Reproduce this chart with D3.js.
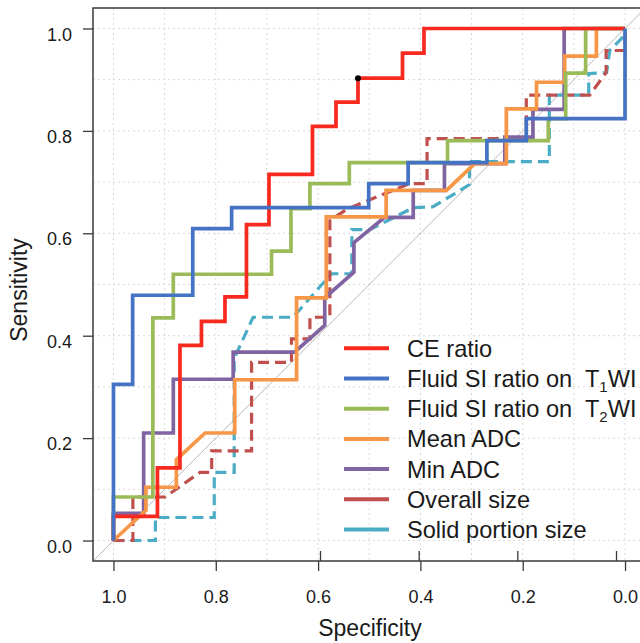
<!DOCTYPE html>
<html>
<head>
<meta charset="utf-8">
<script src="https://cdn.jsdelivr.net/npm/d3@7"></script>
<style>
body { margin: 0; background: #fff; }
text { font-family: "Liberation Sans", Arial, sans-serif; fill: #1a1a1a; }
</style>
</head>
<body>
<div id="chart"></div>
<script>
// ROC curves, each point is [specificity, sensitivity]
var ceRatio = [[1,0],[1,0.047],[0.914,0.047],[0.914,0.142],[0.87,0.142],[0.87,0.381],[0.828,0.381],[0.828,0.428],
    [0.782,0.428],[0.782,0.476],[0.74,0.476],[0.74,0.617],[0.696,0.617],[0.696,0.715],[0.611,0.715],[0.611,0.809],
    [0.565,0.809],[0.565,0.856],[0.522,0.856],[0.522,0.903],[0.435,0.903],[0.435,0.952],[0.393,0.952],[0.393,1],[0,1]];
var fluidT1 = [[1,0],[1,0.305],[0.9625,0.305],[0.9625,0.479],[0.845,0.479],[0.845,0.609],[0.769,0.609],[0.769,0.65],
    [0.501,0.65],[0.501,0.697],[0.424,0.697],[0.424,0.738],[0.27,0.738],[0.27,0.781],[0.193,0.781],[0.193,0.824],
    [0,0.824],[0,1]];
var fluidT2 = [[1,0],[1,0.085],[0.923,0.085],[0.923,0.435],[0.883,0.435],[0.883,0.52],[0.691,0.52],[0.691,0.565],
    [0.653,0.565],[0.653,0.648],[0.616,0.648],[0.616,0.697],[0.539,0.697],[0.539,0.738],[0.347,0.738],[0.347,0.781],
    [0.15,0.781],[0.15,0.824],[0.116,0.824],[0.116,0.913],[0.077,0.913],[0.077,1],[0,1]];
var meanADC = [[1,0],[0.9365,0.059],[0.9365,0.104],[0.877,0.104],[0.877,0.158],[0.821,0.21],[0.763,0.21],[0.763,0.314],
    [0.642,0.314],[0.642,0.474],[0.584,0.474],[0.584,0.632],[0.467,0.632],[0.467,0.684],[0.349,0.684],[0.294,0.736],
    [0.232,0.736],[0.232,0.843],[0.173,0.843],[0.173,0.895],[0.118,0.895],[0.118,0.946],[0.056,0.946],[0.056,1],[0,1]];
var minADC = [[1,0],[1,0.053],[0.941,0.053],[0.941,0.21],[0.883,0.21],[0.883,0.315],[0.766,0.315],[0.766,0.368],
    [0.646,0.368],[0.587,0.42],[0.587,0.474],[0.53,0.524],[0.53,0.582],[0.47,0.631],[0.414,0.631],[0.414,0.684],
    [0.353,0.684],[0.353,0.736],[0.235,0.736],[0.235,0.788],[0.18,0.788],[0.18,0.842],[0.119,0.842],[0.119,1],[0,1]];
var overallSize = [[1,0],[0.962,0],[0.962,0.085],[0.899,0.085],[0.831,0.133],[0.808,0.133],[0.808,0.175],[0.73,0.175],
    [0.73,0.348],[0.652,0.348],[0.652,0.394],[0.616,0.394],[0.616,0.436],[0.577,0.436],[0.577,0.625],[0.542,0.648],
    [0.421,0.697],[0.387,0.697],[0.387,0.785],[0.193,0.785],[0.193,0.87],[0.069,0.87],[0.037,0.914],[0.037,0.957],
    [0,0.957],[0,1]];
var solidSize = [[1,0],[0.918,0],[0.918,0.045],[0.803,0.045],[0.803,0.133],[0.764,0.133],[0.764,0.355],[0.757,0.371],
    [0.727,0.436],[0.649,0.436],[0.574,0.521],[0.534,0.521],[0.534,0.607],[0.499,0.607],[0.414,0.65],[0.375,0.652],
    [0.304,0.695],[0.304,0.74],[0.148,0.74],[0.148,0.87],[0.071,0.87],[0.071,0.912],[0.036,0.914],[0.03,0.957],
    [0.007,0.98],[0,1]];

var cutoffPoint = [0.522, 0.903];

var seriesNames = ["CE ratio", "Fluid SI ratio on  T_1WI", "Fluid SI ratio on  T_2WI", "Mean ADC", "Min ADC",
    "Overall size", "Solid portion size"];
var seriesData = [ceRatio, fluidT1, fluidT2, meanADC, minADC, overallSize, solidSize];
var seriesColors = ["#f8291f", "#4472c4", "#9bbb59", "#f79646", "#8064a2", "#c0504d", "#4bacc6"];
var seriesDashed = [false, false, false, false, false, true, true];

var tickValues = [1.0, 0.8, 0.6, 0.4, 0.2, 0.0];
var innerTickValues = [0.6, 0.4, 0.2, 0.0];
var gridValues = [0, 0.1, 0.2, 0.3, 0.4, 0.5, 0.6, 0.7, 0.8, 0.9, 1.0];

// SVG container
var svg = d3.select("#chart").append("svg")
    .attr("width", 640)
    .attr("height", 643);

var plotLeft = 93, plotTop = 8, plotW = 552.5, plotH = 553;

var xScale = d3.scaleLinear().domain([1.04, -0.04]).range([plotLeft, plotLeft + plotW]);
var yScale = d3.scaleLinear().domain([-0.04, 1.04]).range([plotTop + plotH, plotTop]);
// second set of small marks pointing up from the bottom axis
var xInner = d3.scaleLinear().domain([0.6, 0]).range([320, 616]);

svg.append("clipPath").attr("id", "plotClip")
    .append("rect")
    .attr("x", plotLeft).attr("y", plotTop)
    .attr("width", plotW).attr("height", plotH);

var plotG = svg.append("g").attr("clip-path", "url(#plotClip)");

// Grid
plotG.selectAll(".vgrid")
    .data(gridValues)
    .enter()
    .append("line")
    .attr("x1", d => xScale(d)).attr("x2", d => xScale(d))
    .attr("y1", plotTop).attr("y2", plotTop + plotH)
    .style("stroke", "#d9d9d9")
    .style("stroke-width", 1)
    .style("stroke-dasharray", "2,3");
plotG.selectAll(".hgrid")
    .data(gridValues)
    .enter()
    .append("line")
    .attr("y1", d => yScale(d)).attr("y2", d => yScale(d))
    .attr("x1", plotLeft).attr("x2", plotLeft + plotW)
    .style("stroke", "#d9d9d9")
    .style("stroke-width", 1)
    .style("stroke-dasharray", "2,3");

// Chance diagonal
plotG.append("path")
    .attr("d", d3.line()([[xScale(1.04), yScale(-0.04)], [xScale(-0.04), yScale(1.04)]]))
    .style("stroke", "#b8b8b8")
    .style("stroke-width", 1)
    .style("fill", "none");

// Curves, drawn so the CE ratio and T1 curves sit on top
var line = d3.line()
    .x(d => xScale(d[0]))
    .y(d => yScale(d[1]));

var drawOrder = [6, 5, 4, 3, 2, 0, 1];
drawOrder.forEach(function(i) {
    plotG.append("path")
        .attr("d", line(seriesData[i]))
        .style("fill", "none")
        .style("stroke", seriesColors[i])
        .style("stroke-width", seriesDashed[i] ? 3.2 : 3.7)
        .style("stroke-dasharray", seriesDashed[i] ? "11,6" : null)
        .style("stroke-linejoin", "miter");
});

plotG.append("circle")
    .attr("cx", xScale(cutoffPoint[0]))
    .attr("cy", yScale(cutoffPoint[1]))
    .attr("r", 3)
    .style("fill", "#000");

// Frame
svg.append("rect")
    .attr("x", plotLeft).attr("y", plotTop)
    .attr("width", plotW).attr("height", plotH)
    .style("fill", "none")
    .style("stroke", "#3a3a3a")
    .style("stroke-width", 1.5);

// Axes
var xAxis = d3.axisBottom(xScale)
    .tickValues(tickValues)
    .tickSize(10)
    .tickPadding(19)
    .tickFormat(d3.format(".1f"));
var xAxisG = svg.append("g")
    .attr("transform", "translate(0," + (plotTop + plotH) + ")")
    .call(xAxis);
xAxisG.select(".domain").remove();

var innerAxisG = svg.append("g")
    .attr("transform", "translate(0," + (plotTop + plotH) + ")")
    .call(d3.axisTop(xInner).tickValues(innerTickValues).tickSize(10).tickFormat(""));
innerAxisG.select(".domain").remove();

var yAxis = d3.axisLeft(yScale)
    .tickValues(tickValues)
    .tickSize(10)
    .tickPadding(11)
    .tickFormat(d3.format(".1f"));
var yAxisG = svg.append("g")
    .attr("transform", "translate(" + plotLeft + ",0)")
    .call(yAxis);
yAxisG.select(".domain").remove();

svg.selectAll(".tick line").style("stroke", "#3a3a3a").style("stroke-width", 1.3);
svg.selectAll(".tick text")
    .style("font-family", "'Liberation Sans', Arial, sans-serif")
    .style("font-size", "18px")
    .style("fill", "#1a1a1a");
yAxisG.selectAll(".tick text").attr("dy", "0.65em");

// Axis titles
svg.append("text")
    .attr("x", 370).attr("y", 636)
    .attr("text-anchor", "middle")
    .style("font-size", "23px")
    .text("Specificity");
svg.append("text")
    .attr("transform", "translate(27,290) rotate(-90)")
    .attr("text-anchor", "middle")
    .style("font-size", "23px")
    .text("Sensitivity");

// Legend
var legendG = svg.append("g").attr("transform", "translate(344,348.3)");
seriesNames.forEach(function(name, i) {
    var row = legendG.append("g").attr("transform", "translate(0," + (i * 30.2) + ")");
    row.append("line")
        .attr("x1", 0).attr("x2", 45)
        .style("stroke", seriesColors[i])
        .style("stroke-width", 4);
    var t = row.append("text")
        .attr("x", 63)
        .attr("dy", "0.36em")
        .style("font-size", "23.6px")
        .style("white-space", "pre");
    var parts = name.split("_");
    t.append("tspan").text(parts[0]);
    if (parts.length > 1) {
        t.append("tspan").attr("dy", 5).style("font-size", "15px").text(parts[1].charAt(0));
        t.append("tspan").attr("dy", -5).text(parts[1].slice(1));
    }
});
</script>
</body>
</html>
